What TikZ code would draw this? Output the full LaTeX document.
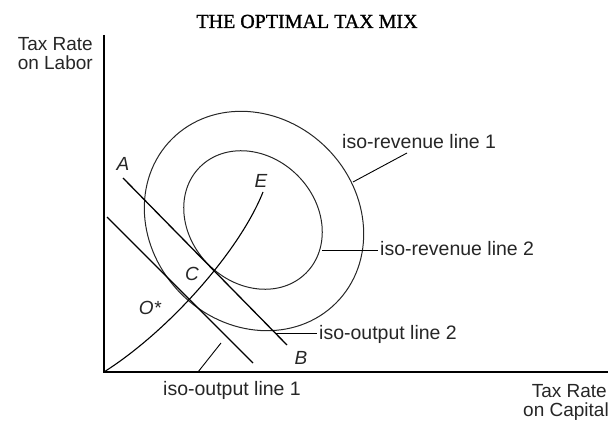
\documentclass[tikz,border=0pt]{standalone}
\usepackage{fontspec}
\setmainfont{Liberation Sans}
\newfontfamily\titlefont[FakeBold=1.2]{Liberation Serif}
\begin{document}
\begin{tikzpicture}[x=1pt,y=-1pt,
  axis/.style={line width=1.4pt},
  straight/.style={line width=1.3pt},
  curveline/.style={line width=1.1pt},
  ring/.style={line width=1pt, black!85},
  leader/.style={line width=0.9pt},
  lab/.style={font=\fontsize{19.5}{21}\selectfont, inner sep=0pt, text=black!85},
  axlab/.style={font=\fontsize{19}{21}\selectfont, inner sep=0pt, text=black!85},
  pt/.style={font=\fontsize{19}{21}\selectfont\itshape, inner sep=0pt, text=black!85},
  titlestyle/.style={font=\titlefont\fontsize{20}{22}\selectfont, inner sep=0pt}]
\useasboundingbox (0,0) rectangle (608,422);

% title
\node[titlestyle, anchor=base] (title) at (307,28) {THE OPTIMAL TAX MIX};

% axes
\coordinate (O) at (104,372);
\coordinate (ytop) at (104,35);
\coordinate (xend) at (608,372);
\draw[axis] (ytop) -- (O) -- (xend);

% axis labels
\node[axlab, anchor=base east] (ylab1) at (93,51) {Tax Rate};
\node[axlab, anchor=base east] (ylab2) at (93,70) {on Labor};
\node[axlab, anchor=base east] (xlab1) at (607,397) {Tax Rate};
\node[axlab, anchor=base east] (xlab2) at (609,416) {on Capital};

% iso-revenue curves
\coordinate (c1) at (254,221);
\coordinate (c2) at (253,220);
\draw[ring, shift={(c1)}, rotate=-45] (0,0) ellipse [x radius=116pt, y radius=103pt];
\draw[ring, shift={(c2)}, rotate=-45] (0,0) ellipse [x radius=75pt, y radius=63pt];

% iso-output lines
\coordinate (A1) at (123,178);
\coordinate (B1) at (287,345);
\draw[straight] (A1) -- (B1);
\coordinate (L1a) at (107,217);
\coordinate (L1b) at (253,363);
\draw[straight] (L1a) -- (L1b);

% expansion path O*E
\coordinate (Eend) at (263,192);
\draw[curveline] (O) .. controls (170,330) and (240,250) .. (Eend);

% point labels
\node[pt] (lA) at (123,164) {A};
\node[pt] (lE) at (261,181) {E};
\node[pt] (lC) at (192,274) {C};
\node[pt] (lO) at (150,308) {O*};
\node[pt] (lB) at (301,358) {B};

% curve labels
\node[lab, anchor=base west] (rev1) at (342,149) {iso-revenue line 1};
\node[lab, anchor=base west] (rev2) at (380,256) {iso-revenue line 2};
\node[lab, anchor=base west] (out2) at (319,339) {iso-output line 2};
\node[lab, anchor=base west] (out1) at (163,395) {iso-output line 1};

% leaders
\coordinate (r1a) at (353,182);
\coordinate (r1b) at (407,153);
\draw[leader] (r1a) -- (r1b);
\coordinate (r2a) at (322,250);
\coordinate (r2b) at (378,250);
\draw[leader] (r2a) -- (r2b);
\coordinate (o2a) at (275,333);
\coordinate (o2b) at (317,333);
\draw[leader] (o2a) -- (o2b);
\coordinate (o1a) at (221,343);
\coordinate (o1b) at (198,372);
\draw[leader] (o1a) -- (o1b);
\end{tikzpicture}
\end{document}
